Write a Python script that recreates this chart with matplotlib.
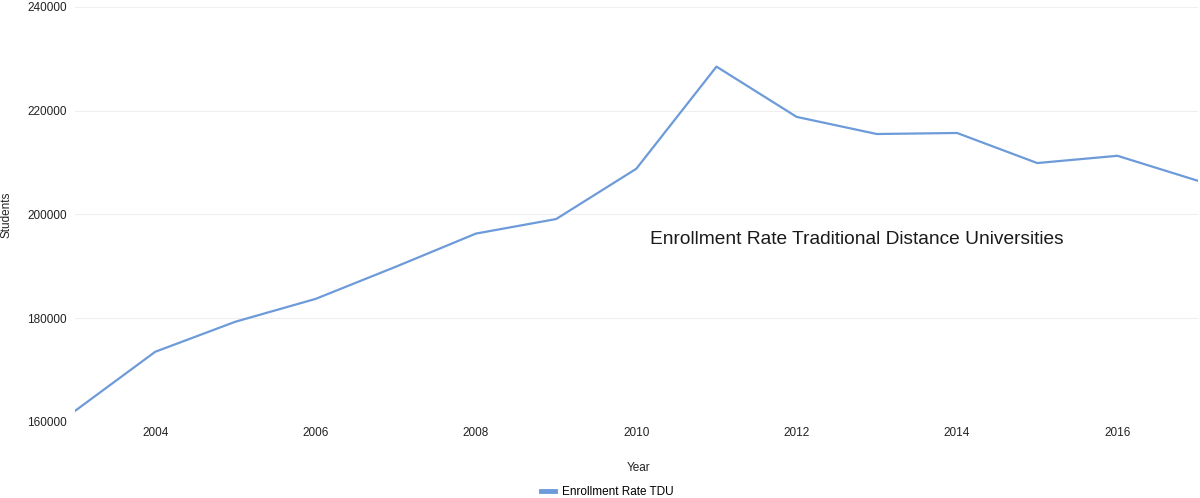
import matplotlib
matplotlib.use("Agg")
import matplotlib.pyplot as plt
from matplotlib.lines import Line2D

# Values
years = [2003, 2004, 2005, 2006, 2007, 2008, 2009, 2010,
         2011, 2012, 2013, 2014, 2015, 2016, 2017]
students = [162100, 173500, 179300, 183700, 189900, 196300, 199100, 208800,
            228500, 218800, 215500, 215700, 209900, 211300, 206500]
x_ticks = [2004, 2006, 2008, 2010, 2012, 2014, 2016]
y_ticks = [160000, 180000, 200000, 220000, 240000]

series_name = "Enrollment Rate TDU"
note_text = "Enrollment Rate Traditional Distance Universities"
line_color = "#6d9bd9"

plt.rcParams['font.family'] = ['Liberation Sans', 'DejaVu Sans']

fig = plt.figure(figsize=(12, 4.98), dpi=100)
ax = fig.add_axes([0.0625, 0.153, 0.9355, 0.833])

ax.plot(years, students, color=line_color, linewidth=1.6)

ax.set_xlim(2003, 2017)
ax.set_ylim(160000, 240000)
ax.set_xticks(x_ticks)
ax.set_yticks(y_ticks)
ax.set_xticklabels([str(t) for t in x_ticks])
ax.set_yticklabels([str(t) for t in y_ticks])
ax.tick_params(axis='both', length=0, labelsize=8.5, colors="#222222")
ax.tick_params(axis='x', pad=4)
ax.tick_params(axis='y', pad=6)

for s in ax.spines.values():
    s.set_visible(False)
ax.grid(True, axis='y', color="#efefef", linewidth=0.8)
ax.set_axisbelow(True)

ax.set_xlabel("Year", fontsize=8.5, color="#222222")
ax.xaxis.set_label_coords(0.502, -0.098)
ax.set_ylabel("Students", fontsize=8.5, color="#222222")
ax.yaxis.set_label_coords(-0.0555, 0.5)

ax.text(2010.17, 195100, note_text, fontsize=13.8, color="#1a1a1a",
        ha='left', va='center')

handle = Line2D([0], [0], color=line_color, linewidth=3.5)
fig.legend([handle], [series_name], loc='center', bbox_to_anchor=(0.506, 0.012),
           frameon=False, fontsize=8.5, handlelength=1.2, handletextpad=0.6)

fig.savefig("out.png", dpi=100, facecolor="white")
